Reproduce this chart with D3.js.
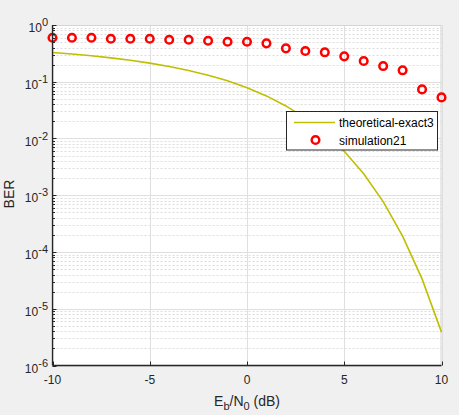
<!DOCTYPE html>
<html><head><meta charset="utf-8">
<script src="https://cdn.jsdelivr.net/npm/d3@7"></script>
<style>
html,body{margin:0;padding:0;background:#f0f0f0;}
svg{display:block;font-family:"Liberation Sans",Arial,sans-serif;}
</style></head>
<body>
<svg id="c" width="459" height="415"></svg>
<script>
const ebn0 = [-10,-9,-8,-7,-6,-5,-4,-3,-2,-1,0,1,2,3,4,5,6,7,8,9,10];
const theoretical = [0.3274,0.3079,0.2867,0.2637,0.2393,0.2132,0.1861,0.1584,0.1307,0.1037,0.07865,0.0563,0.0375,0.0229,0.0125,0.00595,0.00239,0.000772,0.000191,0.0000336,0.00000387];
const simulation = [0.597,0.597,0.597,0.573,0.573,0.573,0.550,0.550,0.528,0.507,0.507,0.475,0.388,0.348,0.330,0.280,0.232,0.189,0.159,0.0733,0.053];
const xTicks = [-10,-5,0,5,10];
const yExps = [0,-1,-2,-3,-4,-5,-6];
const legendLabels = ["theoretical-exact3","simulation21"];

const svg = d3.select("#c");
const L=52.5, R=441.5, T=25, B=365.5;
const x = d3.scaleLinear().domain([-10,10]).range([L,R]);
const y = d3.scaleLog().domain([1e-6,1]).range([B,T]);

svg.append("rect").attr("x",L).attr("y",T).attr("width",R-L).attr("height",B-T).attr("fill","#fff");

// minor grid
const minor=[];
for(let e=-6;e<0;e++) for(let m=2;m<=9;m++) minor.push(m*Math.pow(10,e));
svg.append("g").selectAll("line").data(minor).join("line")
  .attr("x1",L).attr("x2",R).attr("y1",d=>Math.round(y(d))+0.5).attr("y2",d=>Math.round(y(d))+0.5)
  .attr("stroke","#dcdcdc").attr("stroke-width",1).attr("stroke-dasharray","2,2");
// major grid
svg.append("g").selectAll("line").data(yExps.map(e=>Math.pow(10,e))).join("line")
  .attr("x1",L).attr("x2",R).attr("y1",d=>Math.round(y(d))+0.5).attr("y2",d=>Math.round(y(d))+0.5)
  .attr("stroke","#dfdfdf").attr("stroke-width",1);
svg.append("g").selectAll("line").data(xTicks).join("line")
  .attr("y1",T).attr("y2",B).attr("x1",d=>Math.round(x(d))+0.5).attr("x2",d=>Math.round(x(d))+0.5)
  .attr("stroke","#dfdfdf").attr("stroke-width",1);

// box top/right
svg.append("path").attr("d",`M${L},${T+0.5}H${R-0.5}V${B}`).attr("fill","none").attr("stroke","#d4d4d4");

// curve
const line = d3.line().x((d,i)=>x(ebn0[i])).y(d=>y(d));
svg.append("path").datum(theoretical).attr("d",line).attr("fill","none")
  .attr("stroke","#bfbf00").attr("stroke-width",1.6);

// markers
svg.append("g").selectAll("circle").data(simulation).join("circle")
  .attr("cx",(d,i)=>x(ebn0[i])).attr("cy",d=>y(d)).attr("r",3.8)
  .attr("fill","none").attr("stroke","#ff0000").attr("stroke-width",2.5);

// axes
const ax = svg.append("g").attr("stroke","#262626");
ax.append("line").attr("x1",L).attr("x2",R).attr("y1",B).attr("y2",B).attr("stroke-width",1.3);
ax.append("line").attr("x1",L).attr("x2",L).attr("y1",T).attr("y2",B).attr("stroke-width",1.3);
// x ticks
ax.selectAll(".xt").data(xTicks).join("line").attr("class","xt")
  .attr("x1",d=>Math.round(x(d))+0.5).attr("x2",d=>Math.round(x(d))+0.5).attr("y1",B).attr("y2",B-4);
// y ticks
ax.selectAll(".yt").data(yExps).join("line").attr("class","yt")
  .attr("x1",L).attr("x2",L+4).attr("y1",d=>Math.round(y(Math.pow(10,d)))+0.5).attr("y2",d=>Math.round(y(Math.pow(10,d)))+0.5);
ax.selectAll(".ym").data(minor).join("line").attr("class","ym")
  .attr("x1",L).attr("x2",L+2.5).attr("y1",d=>Math.round(y(d))+0.5).attr("y2",d=>Math.round(y(d))+0.5);

// x tick labels
svg.append("g").selectAll("text").data(xTicks).join("text")
  .attr("x",d=>x(d)).attr("y",384).attr("text-anchor","middle")
  .attr("font-size",12).attr("fill","#262626").text(d=>d);
// y tick labels
const yl = svg.append("g").selectAll("text").data(yExps).join("text")
  .attr("x",48).attr("y",d=>y(Math.pow(10,d))+7).attr("text-anchor","end")
  .attr("font-size",12).attr("fill","#262626");
yl.append("tspan").text("10");
yl.append("tspan").attr("dy",-6).attr("font-size",11).text(d=>d);

// axis labels
svg.append("text").attr("transform","translate(14,194) rotate(-90)").attr("text-anchor","middle")
  .attr("font-size",14).attr("fill","#262626").text("BER");
const xl = svg.append("text").attr("x",247).attr("y",406).attr("text-anchor","middle")
  .attr("font-size",14).attr("fill","#262626");
xl.append("tspan").text("E");
xl.append("tspan").attr("dy",4).attr("font-size",11).text("b");
xl.append("tspan").attr("dy",-4).text("/N");
xl.append("tspan").attr("dy",4).attr("font-size",11).text("0");
xl.append("tspan").attr("dy",-4).text(" (dB)");

// legend
const lg = svg.append("g");
lg.append("rect").attr("x",286.5).attr("y",111.5).attr("width",151).attr("height",38.5)
  .attr("fill","#fff").attr("stroke","#262626").attr("stroke-width",1);
lg.append("line").attr("x1",294).attr("x2",335).attr("y1",122.5).attr("y2",122.5)
  .attr("stroke","#bfbf00").attr("stroke-width",1.6);
lg.append("circle").attr("cx",315.5).attr("cy",140).attr("r",3.8)
  .attr("fill","none").attr("stroke","#ff0000").attr("stroke-width",2.5);
lg.selectAll("text").data(legendLabels).join("text")
  .attr("x",339).attr("y",(d,i)=>127+i*17.5).attr("font-size",12).attr("fill","#000").text(d=>d);
</script>
</body></html>
